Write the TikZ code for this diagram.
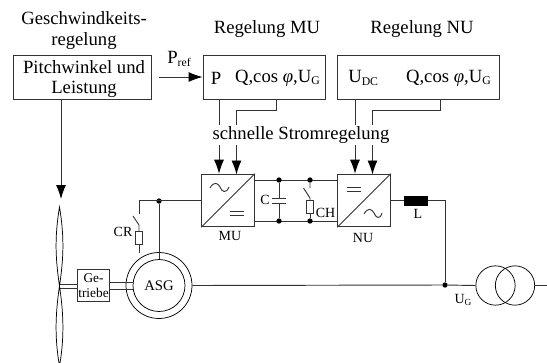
\documentclass[tikz,border=0pt]{standalone}
\usepackage{fontspec}
\setmainfont{Liberation Serif}
\usepackage{xcolor}
\usetikzlibrary{arrows.meta, positioning}
\definecolor{linegray}{gray}{0.2}
\newcommand{\lowtxt}[1]{\raisebox{-0.3ex}{\fontsize{8.8}{10}\selectfont #1}}
\tikzset{
  wire/.style={line width=0.7pt, draw=linegray},
  sig/.style={wire, -{Latex[length=10.5pt,width=7.5pt,black]}},
  ctrlbox/.style={draw=linegray, line width=0.7pt, inner sep=0pt},
  txt/.style={font=\fontsize{14}{16}\selectfont, inner sep=0pt},
  small/.style={font=\fontsize{10.5}{12}\selectfont, inner sep=0pt},
  dot/.style={circle, fill=black, inner sep=0pt, minimum size=4pt},
  resbox/.style={draw=linegray, line width=0.7pt, fill=white, inner sep=0pt, minimum width=5.2pt, minimum height=10pt},
  conv/.style={draw=linegray, line width=0.7pt, inner sep=0pt, minimum size=39.5pt},
  ring/.style={circle, draw=black, line width=0.55pt, inner sep=0pt},
}
\begin{document}
\begin{tikzpicture}[x=0.75pt, y=-0.75pt]
\useasboundingbox (0,0) rectangle (547,362);
% Control blocks
\node[ctrlbox, minimum width=103.5pt, minimum height=33pt] (pitch) at (82,77) {};
\node[ctrlbox, minimum width=91.5pt, minimum height=33pt] (regmu) at (264,77) {};
\node[ctrlbox, minimum width=121.5pt, minimum height=33pt] (regnu) at (418.5,77) {};
\node[txt] (pitchtop) at (84,67) {Pitchwinkel und};
\node[txt] (pitchbot) at (84,89) {Leistung};
\node[txt] (gesch1) at (84,18) {Geschwindkeits-};
\node[txt] (gesch2) at (84,41) {regelung};
\node[txt] (titlemu) at (267,29) {Regelung MU};
\node[txt] (titlenu) at (422,29) {Regelung NU};
\node[txt] (lblp) at (216,78) {P};
\node[txt, anchor=east] (lblqmu) at (320,78) {Q,cos {\itshape φ},U\lowtxt{G}};
\node[txt, anchor=west] (lbludc) at (348,78) {U\lowtxt{DC}};
\node[txt, anchor=east] (lblqnu) at (491,78) {Q,cos {\itshape φ},U\lowtxt{G}};
\node[txt] (pref) at (179,59) {P\lowtxt{ref}};
% Converters
\node[conv] (mu) at (228,200.5) {};
\node[conv] (nu) at (364,200.5) {};
\draw[wire] (mu.south west) -- (mu.north east);
\draw[wire] (nu.south west) -- (nu.north east);
\draw[wire] (210,188) .. controls (214,181) and (218,183) .. (220,187) .. controls (222,192) and (226,194) .. (229,187);
\draw[wire] (230,211) -- (244,211) (230,215) -- (244,215);
\draw[wire] (347,187) -- (361,187) (347,191) -- (361,191);
\draw[wire] (364,214) .. controls (368,207) and (372,209) .. (374,213) .. controls (376,218) and (380,220) .. (382,213);
\node[small] (lblmu) at (230,236) {MU};
\node[small] (lblnu) at (363,238) {NU};
% Signal arrows
\coordinate (ctrlp) at (219,99);
\coordinate (ctrlq) at (276.5,99);
\coordinate (ctrld) at (355,99);
\coordinate (ctrlv) at (440,99);
\draw[sig] (159,77) -- (regmu.west);
\draw[sig] (ctrlp) -- (ctrlp |- mu.north);
\draw[sig] (ctrlq) -- (276.5,110) -- (236.5,110) -- (236.5,174.5);
\draw[sig] (ctrld) -- (ctrld |- nu.north);
\draw[sig] (ctrlv) -- (440,110) -- (372.5,110) -- (372.5,174.5);
\node[txt, fill=white, inner ysep=1pt] (fast) at (301,135) {schnelle Stromregelung};
% DC link
\coordinate (busa) at (279,180);
\coordinate (busb) at (279,221);
\coordinate (busc) at (310,180);
\coordinate (busd) at (310,221);
\draw[wire] (254,180) -- (338,180) (254,221) -- (338,221);
\node[dot] (dota) at (busa) {};
\node[dot] (dotb) at (busb) {};
\node[dot] (dotc) at (busc) {};
\node[dot] (dotd) at (busd) {};
\draw[wire] (dota) -- (279,198) (272,198) -- (286,198);
\draw[wire] (dotb) -- (279,203) (272,203) -- (286,203);
\node[small] (lblc) at (265,200) {C};
\node[resbox] (resch) at (310,207) {};
\draw[wire] (dotc) -- (310,188) (303.5,188) -- (310,198) -- (resch.north);
\draw[wire] (resch.south) -- (dotd);
\node[small] (lblch) at (325.5,213) {CH};
% Grid side
\node[draw=black, fill=black, inner sep=0pt, minimum width=17pt, minimum height=6.5pt] (choke) at (416,200.5) {};
\node[small] (lbll) at (418,214) {L};
\node[dot] (gridpt) at (445,285) {};
\node[small] (lblug) at (463,300) {U\raisebox{-0.2ex}{\fontsize{7}{8}\selectfont G}};
\node[ring, minimum size=29.5pt] (trafoa) at (495.5,285.5) {};
\node[ring, minimum size=29.5pt] (trafob) at (515,285.5) {};
\coordinate (gridend) at (547,285.5);
\draw[wire] (nu.east) -- (choke.west);
\draw[wire] (choke.east) -| (gridpt);
\draw[wire] (trafob.east) -- (gridend);
% Generator
\node[ring, minimum size=49.5pt] (asgout) at (159,285.5) {};
\node[ring, minimum size=39pt] (asg) at (159,285.5) {};
\node[font=\fontsize{11}{12}\selectfont, inner sep=0pt] (lblasg) at (159,286) {ASG};
\draw[wire] (asgout.east) -- (gridpt);
\draw[wire] (gridpt) -- (trafoa.west);
\node[dot] (dotasg) at (159,201) {};
\draw[wire] (asg.north) -- (dotasg);
\draw[wire] (mu.west) -- (139,200.5) -- (139,214);
% Crowbar
\node[resbox] (rescr) at (139,238) {};
\draw[wire] (133,216) -- (139,225) -- (rescr.north);
\draw[wire] (rescr.south) -- (139,253);
\node[small] (lblcr) at (123,232) {CR};
% Gearbox and shafts
\node[draw=linegray, line width=0.7pt, inner sep=0pt, minimum size=24.5pt] (gear) at (93.5,285.5) {};
\node[font=\fontsize{10}{12}\selectfont, inner sep=0pt] (lblge) at (93.5,278) {Ge-};
\node[font=\fontsize{10}{12}\selectfont, inner sep=0pt] (lbltr) at (93.5,293) {triebe};
\draw[wire, line width=0.55pt] (59,284) -- (gear.west |- 0,284) (59,288.5) -- (gear.west |- 0,288.5);
\draw[wire, line width=0.55pt] (gear.east |- 0,282.5) -- (133,282.5) (gear.east |- 0,289.5) -- (133,289.5);
% Rotor blades
\coordinate (hub) at (59.5,286);
\draw[line width=0.55pt, fill=white] (hub) .. controls (56,262) and (54,240) .. (59.5,207) .. controls (65,240) and (63,262) .. (hub);
\draw[line width=0.55pt, fill=white] (hub) .. controls (56,310) and (54,335) .. (59.5,366) .. controls (65,335) and (63,310) .. (hub);
\draw[sig] (pitch.south -| 61,0) -- (61,199);
\end{tikzpicture}
\end{document}
